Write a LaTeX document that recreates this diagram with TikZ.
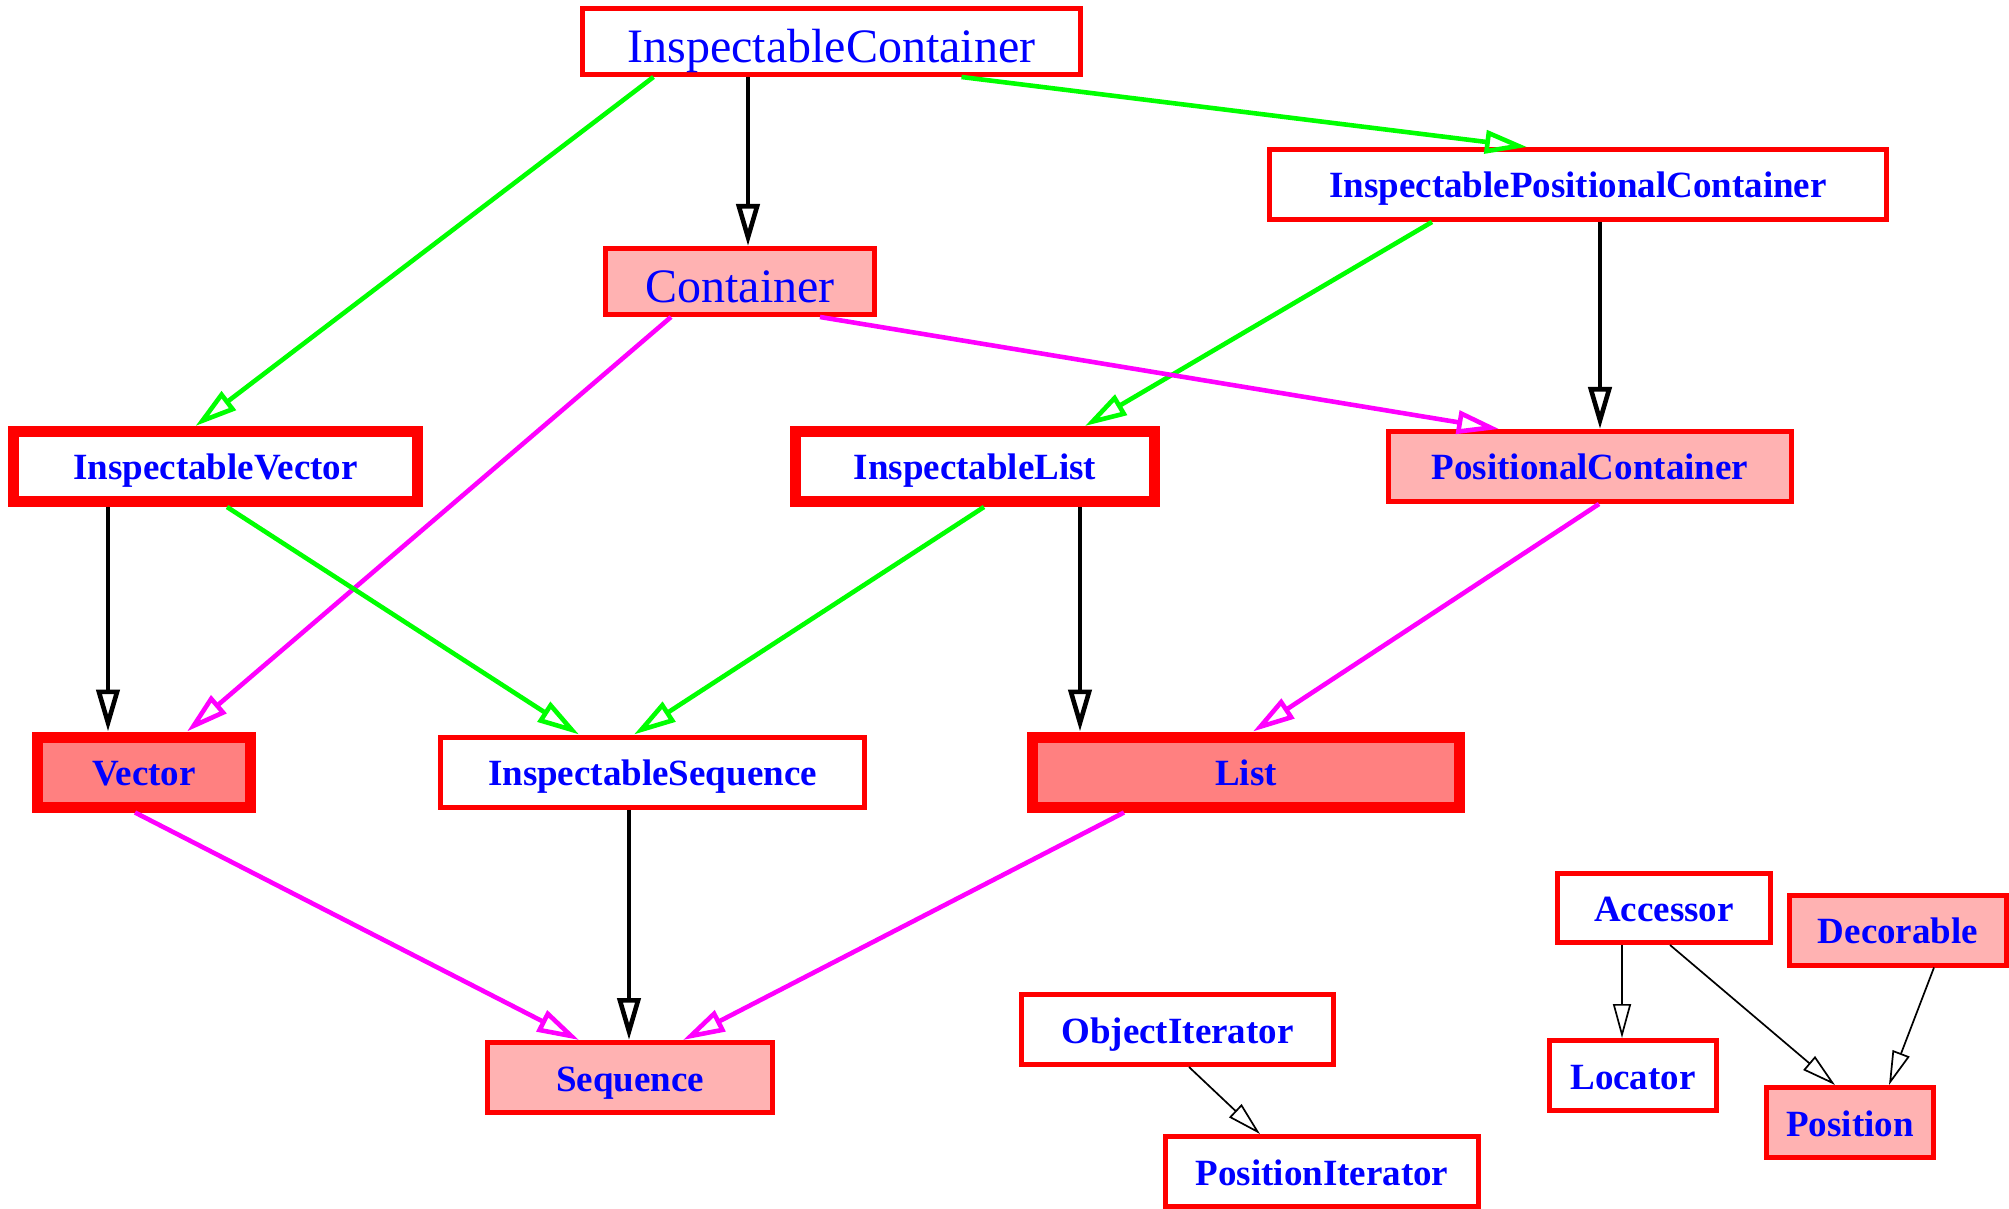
\documentclass[tikz,border=0pt]{standalone}
\usepackage{fontspec}
\setmainfont{Liberation Serif}
\usepackage{xcolor}
\usepackage{tikz}
\usetikzlibrary{arrows.meta}
\definecolor{boxred}{RGB}{255,0,0}
\definecolor{txtblue}{RGB}{0,0,255}
\definecolor{lightpink}{RGB}{255,178,178}
\definecolor{darkpink}{RGB}{255,128,128}
\definecolor{grn}{RGB}{0,255,0}
\definecolor{mag}{RGB}{255,0,255}
\tikzset{
  cls/.style={draw=boxred, line width=2.5pt, fill=white, text=txtblue, inner sep=0pt,
              minimum height=35pt, text height=13.5pt, text depth=0pt,
              font=\fontsize{18.5}{22}\selectfont\bfseries},
  clsbig/.style={cls, minimum height=33pt, text height=21pt,
                 font=\fontsize{24}{28}\selectfont},
  clsthick/.style={cls, line width=5.5pt},
  pinkfill/.style={fill=lightpink},
  darkfill/.style={fill=darkpink},
  blkarrow/.style={-{Triangle[open, length=21pt, width=11.5pt]}, line width=2.3pt, black},
  grnarrow/.style={blkarrow, draw=grn},
  magarrow/.style={blkarrow, draw=mag},
  thinarrow/.style={-{Triangle[open, length=17pt, width=9pt]}, line width=0.85pt, black}
}
\begin{document}
\begin{tikzpicture}[x=0.5pt, y=-0.5pt]
\useasboundingbox (0,0) rectangle (2009,1209);
% classes
\node[clsbig, minimum width=249pt] (ic) at (831.5,41.5) {InspectableContainer};
\node[clsbig, pinkfill, minimum width=134.5pt] (cont) at (740,281.5) {Container};
\node[cls, minimum width=308.5pt] (ipc) at (1578,184.5) {InspectablePositionalContainer};
\node[clsthick, minimum width=202pt] (ivec) at (215.5,466.5) {InspectableVector};
\node[clsthick, minimum width=179.5pt] (ilist) at (975,466.5) {InspectableList};
\node[cls, pinkfill, minimum width=201.5pt] (pcont) at (1590,466.5) {PositionalContainer};
\node[clsthick, darkfill, minimum width=106.5pt] (vec) at (144,772) {Vector};
\node[cls, minimum width=212pt] (iseq) at (652.5,772) {InspectableSequence};
\node[clsthick, darkfill, minimum width=213.5pt] (list) at (1246,772) {List};
\node[cls, pinkfill, minimum width=142.5pt] (seq) at (630,1077.5) {Sequence};
% iterators and positions
\node[cls, minimum width=156pt] (oiter) at (1177.5,1029.5) {ObjectIterator};
\node[cls, minimum width=156.5pt] (piter) at (1322,1171.5) {PositionIterator};
\node[cls, minimum width=106.5pt, minimum height=34.5pt] (acc) at (1664,908) {Accessor};
\node[cls, pinkfill, minimum width=108.5pt] (deco) at (1898,930) {Decorable};
\node[cls, minimum width=83.5pt] (loc) at (1633,1075.5) {Locator};
\node[cls, pinkfill, minimum width=83.5pt] (pos) at (1850,1122.5) {Position};
% edges
\draw[blkarrow] ([xshift=-41.75pt]ic.south) -- ([xshift=4pt]cont.north);
\draw[grnarrow] ([xshift=-89pt]ic.south) -- ([xshift=-10pt]ivec.north);
\draw[grnarrow] ([xshift=65pt]ic.south) -- ([xshift=-25.5pt]ipc.north);
\draw[grnarrow] ([xshift=-73pt]ipc.south) -- ([xshift=55pt]ilist.north);
\draw[blkarrow] ([xshift=11pt]ipc.south) -- ([xshift=5pt]pcont.north);
\draw[magarrow] ([xshift=40pt]cont.south) -- ([xshift=-45.5pt]pcont.north);
\draw[magarrow] ([xshift=-34.5pt]cont.south) -- ([xshift=21.5pt]vec.north);
\draw[blkarrow] ([xshift=-53.75pt]ivec.south) -- ([xshift=-18pt]vec.north);
\draw[grnarrow] ([xshift=5.75pt]ivec.south) -- ([xshift=-36.75pt]iseq.north);
\draw[grnarrow] ([xshift=4.5pt]ilist.south) -- ([xshift=-9.25pt]iseq.north);
\draw[blkarrow] ([xshift=52.5pt]ilist.south) -- ([xshift=-83pt]list.north);
\draw[magarrow] ([xshift=4.5pt]pcont.south) -- ([xshift=3.5pt]list.north);
\draw[magarrow] ([xshift=-4.5pt]vec.south) -- ([xshift=-25.5pt]seq.north);
\draw[blkarrow] ([xshift=-11.75pt]iseq.south) -- ([xshift=-0.5pt]seq.north);
\draw[magarrow] ([xshift=-61pt]list.south) -- ([xshift=26.5pt]seq.north);
\draw[thinarrow] ([xshift=5.75pt]oiter.south) -- ([xshift=-31pt]piter.north);
\draw[thinarrow] ([xshift=-21pt]acc.south) -- ([xshift=-5.5pt]loc.north);
\draw[thinarrow] ([xshift=3pt]acc.south) -- ([xshift=-7.5pt]pos.north);
\draw[thinarrow] ([xshift=18pt]deco.south) -- ([xshift=19.5pt]pos.north);
\end{tikzpicture}
\end{document}
